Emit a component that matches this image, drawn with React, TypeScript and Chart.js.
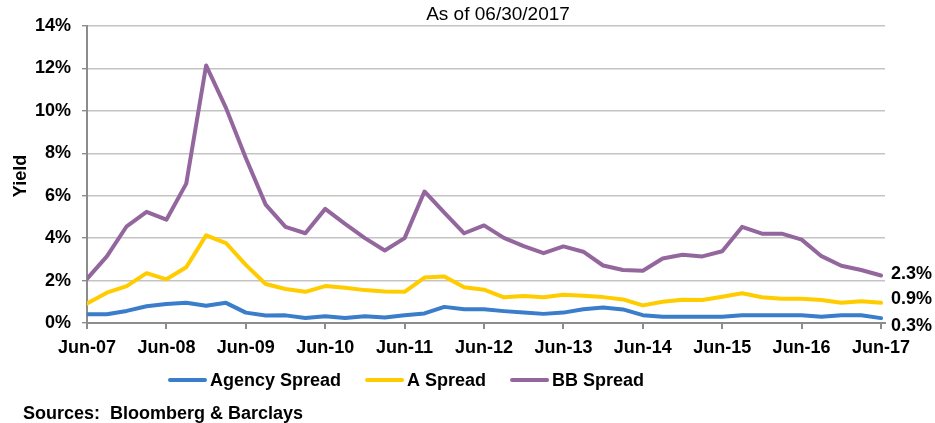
import React, { useEffect, useRef } from "react";
import { Chart, registerables } from "chart.js";

Chart.register(...registerables);

const yearLabels = ["Jun-07", "Jun-08", "Jun-09", "Jun-10", "Jun-11", "Jun-12", "Jun-13", "Jun-14", "Jun-15", "Jun-16", "Jun-17"];

// quarterly observations Jun-07 .. Jun-17 (41 points), in %
const agencySpread = [0.41, 0.41, 0.57, 0.79, 0.9, 0.95, 0.81, 0.95, 0.49, 0.35, 0.36, 0.24, 0.32, 0.24, 0.32, 0.26, 0.37, 0.45, 0.76, 0.65, 0.65, 0.56, 0.49, 0.43, 0.49, 0.65, 0.73, 0.64, 0.37, 0.3, 0.3, 0.3, 0.3, 0.37, 0.37, 0.37, 0.37, 0.3, 0.37, 0.37, 0.23];
const aSpread = [0.92, 1.43, 1.74, 2.35, 2.06, 2.63, 4.13, 3.77, 2.74, 1.84, 1.6, 1.47, 1.74, 1.66, 1.55, 1.49, 1.47, 2.14, 2.19, 1.68, 1.57, 1.21, 1.27, 1.21, 1.33, 1.28, 1.22, 1.11, 0.83, 1.0, 1.1, 1.08, 1.24, 1.4, 1.21, 1.14, 1.14, 1.08, 0.95, 1.02, 0.95];
const bbSpread = [2.08, 3.14, 4.56, 5.24, 4.87, 6.57, 12.14, 10.14, 7.78, 5.58, 4.53, 4.23, 5.38, 4.67, 4.0, 3.42, 4.0, 6.2, 5.2, 4.23, 4.6, 4.01, 3.62, 3.29, 3.61, 3.36, 2.71, 2.5, 2.46, 3.04, 3.22, 3.14, 3.38, 4.53, 4.21, 4.21, 3.93, 3.15, 2.7, 2.5, 2.24];

const seriesNames = ["Agency Spread", "A Spread", "BB Spread"];
const seriesColors = ["#3A7DCB", "#FFCC00", "#93669E"];
const endLabels = ["0.3%", "0.9%", "2.3%"];
const endLabelOffsets = [8, -3.5, -1];

const subtitle = "As of 06/30/2017";
const yAxisTitle = "Yield";
const sourceNote = "Sources:  Bloomberg & Barclays";

const FONT = "Arial, 'Liberation Sans', Helvetica, sans-serif";

export default function App() {
  const ref = useRef<HTMLCanvasElement>(null);

  useEffect(() => {
    const canvas = ref.current;
    if (!canvas) return;
    const toPts = (arr: number[]) => arr.map((v, i) => ({ x: i, y: v }));
    const allSeries = [agencySpread, aSpread, bbSpread];

    const overlay = {
      id: "overlay",
      afterDraw(chart: any) {
        const ctx = chart.ctx;
        const ys = chart.scales.y;
        const xs = chart.scales.x;
        ctx.save();
        ctx.fillStyle = "#000";
        // subtitle
        ctx.font = `19px ${FONT}`;
        ctx.textAlign = "center";
        ctx.textBaseline = "alphabetic";
        ctx.fillText(subtitle, 498, 20);
        // y axis title
        ctx.save();
        ctx.translate(26, 176);
        ctx.rotate(-Math.PI / 2);
        ctx.font = `bold 18px ${FONT}`;
        ctx.textAlign = "center";
        ctx.fillText(yAxisTitle, 0, 0);
        ctx.restore();
        // end labels
        ctx.font = `bold 18px ${FONT}`;
        ctx.textAlign = "left";
        ctx.textBaseline = "middle";
        const lastIdx = agencySpread.length - 1;
        allSeries.forEach((arr, k) => {
          const py = ys.getPixelForValue(arr[lastIdx]) + endLabelOffsets[k];
          const px = xs.getPixelForValue(lastIdx) + 10;
          ctx.fillText(endLabels[k], px, py);
        });
        // legend
        let lx = 169;
        const ly = 380;
        ctx.textBaseline = "middle";
        seriesNames.forEach((name, k) => {
          ctx.strokeStyle = seriesColors[k];
          ctx.lineWidth = 4;
          ctx.lineCap = "round";
          ctx.beginPath();
          ctx.moveTo(lx + 1, ly);
          ctx.lineTo(lx + 36, ly);
          ctx.stroke();
          ctx.fillStyle = "#000";
          ctx.fillText(name, lx + 41, ly + 1);
          lx += 41 + ctx.measureText(name).width + 25;
        });
        // source note
        ctx.textBaseline = "alphabetic";
        ctx.fillText(sourceNote, 23, 419);
        ctx.restore();
      },
    };

    const chart = new Chart(canvas, {
      type: "line",
      data: {
        datasets: allSeries.map((arr, k) => ({
          label: seriesNames[k],
          data: toPts(arr),
          borderColor: seriesColors[k],
          backgroundColor: seriesColors[k],
          borderWidth: 4,
          pointRadius: 0,
          tension: 0,
          borderJoinStyle: "round" as const,
          borderCapStyle: "round" as const,
        })),
      },
      options: {
        responsive: false,
        animation: false,
        devicePixelRatio: 1,
        layout: { padding: { top: 26, right: 50, bottom: 0, left: 0 } },
        plugins: {
          legend: { display: false },
          title: { display: false },
          tooltip: { enabled: false },
        },
        scales: {
          x: {
            type: "linear",
            min: 0,
            max: 40.2,
            afterFit: (s: any) => {
              s.height = 100;
            },
            afterBuildTicks: (s: any) => {
              s.ticks = yearLabels.map((_, k) => ({ value: k * 4 }));
            },
            ticks: {
              autoSkip: false,
              maxRotation: 0,
              padding: 8,
              color: "#000",
              font: { family: FONT, size: 18, weight: "bold" },
              callback: (v: any) => yearLabels[Math.round(Number(v) / 4)] ?? "",
            },
            grid: {
              drawOnChartArea: false,
              drawTicks: true,
              tickLength: 6,
              tickColor: "#8c8c8c",
              lineWidth: 2,
            },
            border: { display: true, color: "#8c8c8c", width: 2 },
          },
          y: {
            type: "linear",
            min: 0,
            max: 14,
            afterFit: (s: any) => {
              s.width = 87;
            },
            ticks: {
              stepSize: 2,
              padding: 11,
              color: "#000",
              font: { family: FONT, size: 18, weight: "bold" },
              callback: (v: any) => `${v}%`,
            },
            grid: {
              color: "#c4c4c4",
              lineWidth: 1.4,
              drawTicks: true,
              tickLength: 5,
              tickColor: "#8c8c8c",
            },
            border: { display: true, color: "#8c8c8c", width: 2 },
          },
        },
      },
      plugins: [overlay],
    });
    return () => chart.destroy();
  }, []);

  return (
    <div style={{ position: "absolute", left: 0, top: 0, width: 935, height: 423, background: "#fff" }}>
      <canvas ref={ref} width={935} height={423} style={{ display: "block", width: 935, height: 423 }} />
    </div>
  );
}
